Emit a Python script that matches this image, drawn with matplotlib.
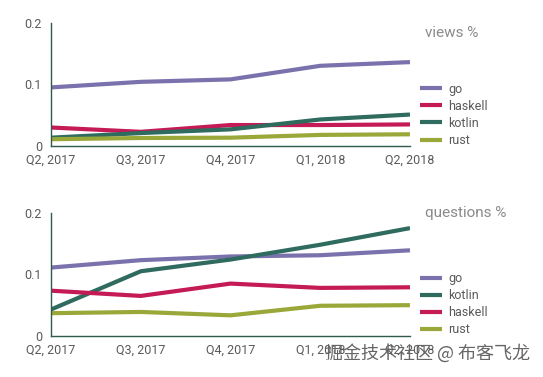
import matplotlib
matplotlib.use("Agg")
import matplotlib.pyplot as plt

quarters = ["Q2, 2017", "Q3, 2017", "Q4, 2017", "Q1, 2018", "Q2, 2018"]

views_go = [0.095, 0.104, 0.108, 0.130, 0.136]
views_haskell = [0.030, 0.023, 0.034, 0.034, 0.035]
views_kotlin = [0.0135, 0.021, 0.027, 0.043, 0.051]
views_rust = [0.011, 0.013, 0.0135, 0.018, 0.019]

q_go = [0.111, 0.123, 0.129, 0.131, 0.139]
q_kotlin = [0.043, 0.105, 0.124, 0.148, 0.175]
q_haskell = [0.0735, 0.065, 0.085, 0.078, 0.079]
q_rust = [0.037, 0.039, 0.0335, 0.049, 0.050]

colors = {"go": "#7a72ad", "haskell": "#c41a56", "kotlin": "#2f6b5e", "rust": "#9aa83a"}
spine_color = "#2f5a50"
text_color = "#5a5a5a"

plt.rcParams['font.family'] = ['Roboto', 'DejaVu Sans']

fig = plt.figure(figsize=(5.43, 3.77), dpi=100)
ax1 = fig.add_axes([0.094, 0.6127, 0.661, 0.3273])
ax2 = fig.add_axes([0.094, 0.1088, 0.661, 0.3270])

def style(ax, series, title, title_y, leg_y):
    x = list(range(len(quarters)))
    for name, vals in series:
        ax.plot(x, vals, color=colors[name], lw=3, label=name, solid_capstyle='butt')
    ax.set_xlim(0, 4)
    ax.set_ylim(0, 0.2)
    ax.set_xticks(x)
    ax.set_xticklabels(quarters)
    ax.set_yticks([0, 0.1, 0.2])
    ax.set_yticklabels(["0", "0.1", "0.2"])
    ax.tick_params(length=0, labelsize=9, labelcolor=text_color, pad=5.5)
    ax.tick_params(axis='y', pad=6.5)
    for s in ["top", "right"]:
        ax.spines[s].set_visible(False)
    for s in ["left", "bottom"]:
        ax.spines[s].set_color(spine_color)
        ax.spines[s].set_linewidth(1)
    ax.patch.set_alpha(0)
    fig.text(0.782, title_y, title, color="#8a8a8a", fontsize=11, va="center", ha="left")
    ax.legend(loc="upper left", bbox_to_anchor=(0.765, leg_y), bbox_transform=fig.transFigure,
              frameon=False, fontsize=9, labelcolor=text_color, handlelength=1.75,
              handletextpad=0.45, labelspacing=0.33, borderaxespad=0)

style(ax1, [("go", views_go), ("haskell", views_haskell), ("kotlin", views_kotlin), ("rust", views_rust)],
      "views %", 1 - 33 / 377, 1 - 77.5 / 377)
style(ax2, [("go", q_go), ("kotlin", q_kotlin), ("haskell", q_haskell), ("rust", q_rust)],
      "questions %", 1 - 213 / 377, 1 - 267 / 377)

fig.text(0.598, 1 - 353 / 377, "掘金技术社区 @ 布客飞龙", color="#666666", fontsize=13,
         family=['Noto Sans CJK SC', 'DejaVu Sans'], va="center", ha="left")

fig.savefig("out.png", dpi=100)
